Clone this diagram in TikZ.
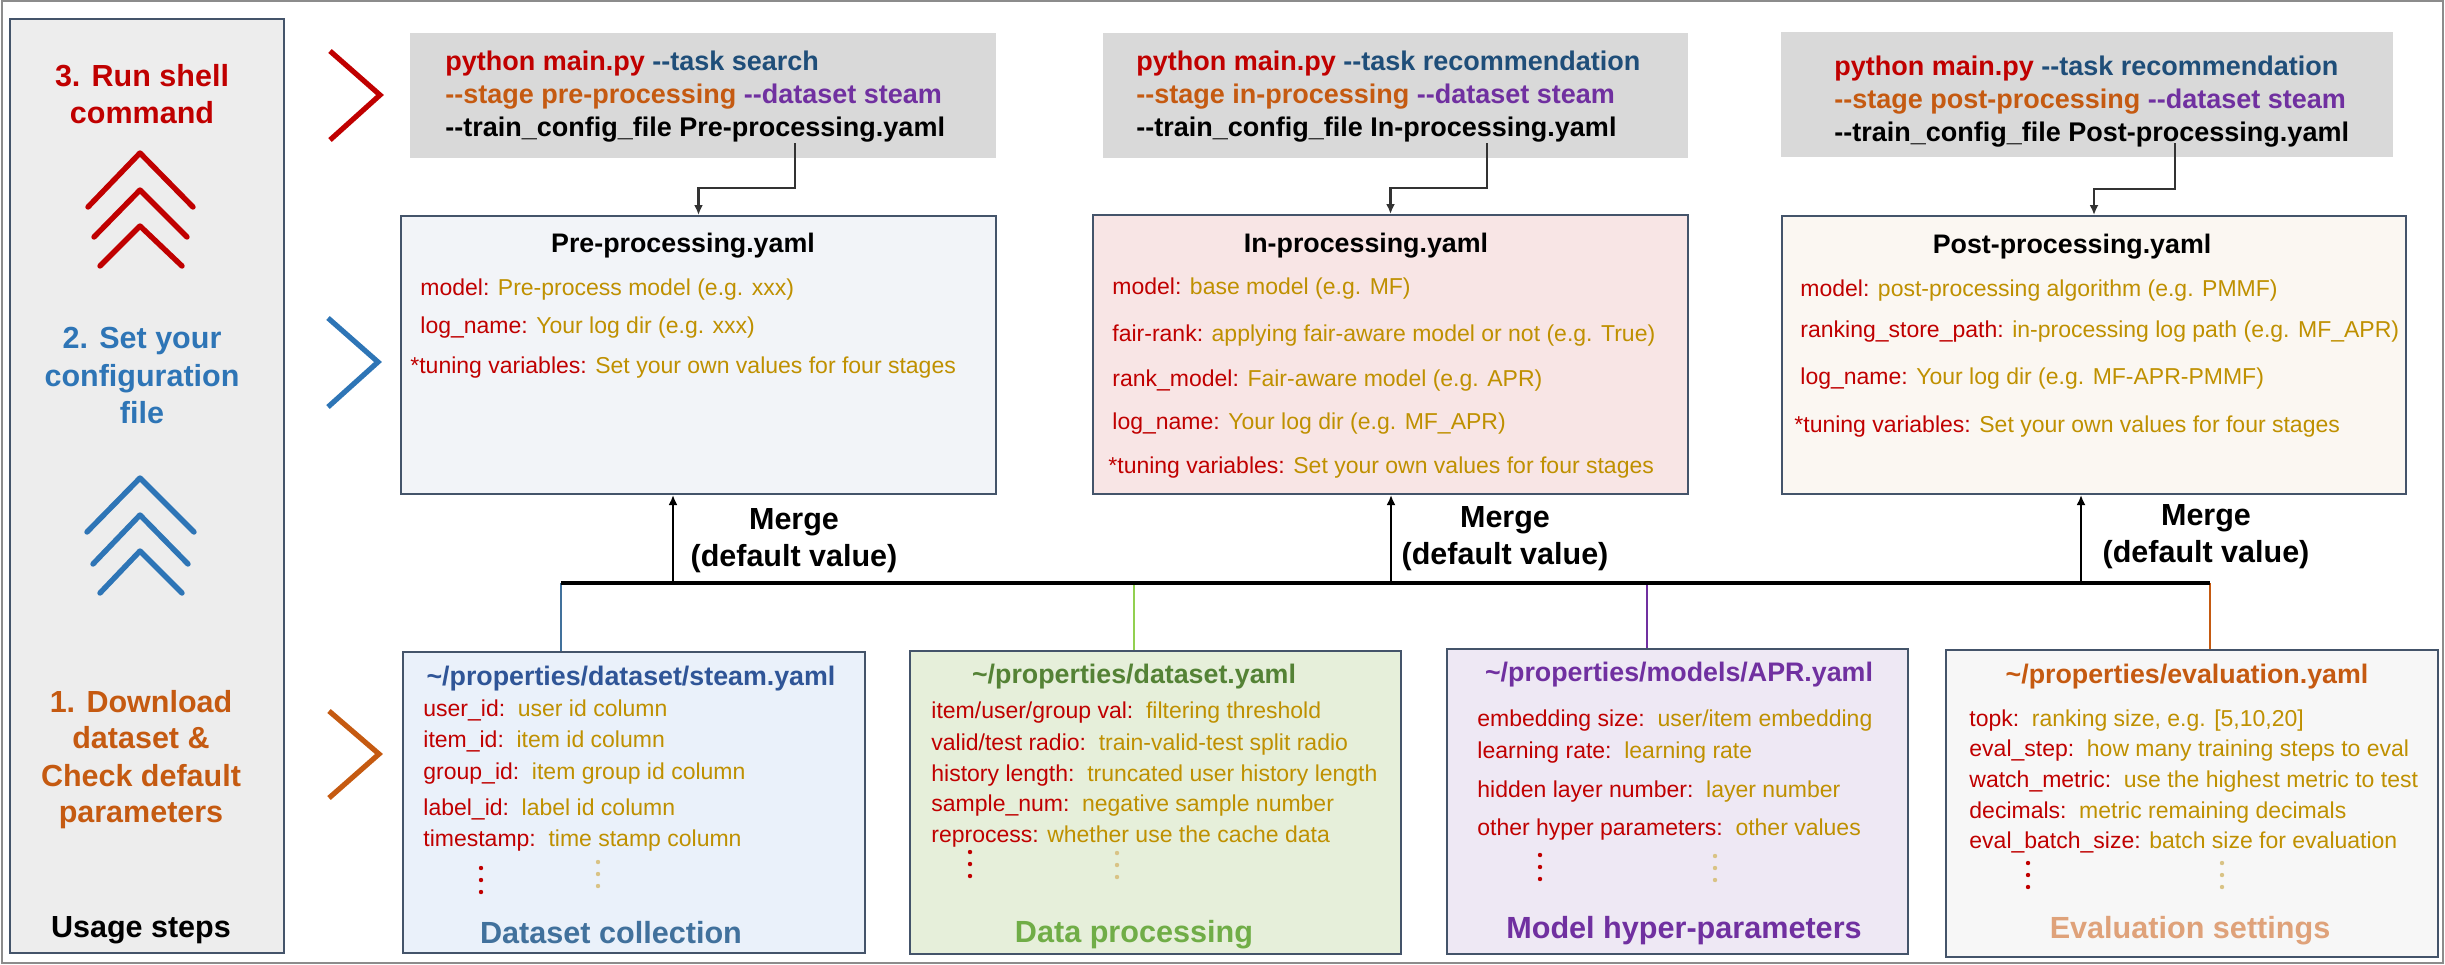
\documentclass[tikz,border=0pt]{standalone}
\usepackage{fontspec}
\setmainfont{Liberation Sans}[Ligatures=TeXOff]
\usepackage{xcolor}
\usetikzlibrary{arrows.meta}
\definecolor{stepred}{HTML}{C00000}
\definecolor{stepblue}{HTML}{2E75B6}
\definecolor{steporange}{HTML}{C55A11}
\definecolor{taskblue}{HTML}{1F4E79}
\definecolor{argpurple}{HTML}{7030A0}
\definecolor{keyred}{HTML}{C00000}
\definecolor{valgold}{HTML}{BF9000}
\definecolor{dotgold}{HTML}{D9C385}
\definecolor{edge}{HTML}{44546A}
\definecolor{framegrey}{HTML}{8C8C8C}
\definecolor{arrowgrey}{HTML}{333333}
\definecolor{panelgrey}{HTML}{EDEDED}
\definecolor{cmdgrey}{HTML}{D9D9D9}
\definecolor{prefill}{HTML}{F2F4F8}
\definecolor{infill}{HTML}{F8E5E5}
\definecolor{postfill}{HTML}{FBF7F2}
\definecolor{dsfill}{HTML}{EAF1FA}
\definecolor{dpfill}{HTML}{E6EFDA}
\definecolor{mhfill}{HTML}{EEE8F4}
\definecolor{evfill}{HTML}{F7F7F7}
\definecolor{dstitle}{HTML}{2F5597}
\definecolor{dscap}{HTML}{41719C}
\definecolor{dptitle}{HTML}{548235}
\definecolor{dpcap}{HTML}{70AD47}
\definecolor{mhcol}{HTML}{7030A0}
\definecolor{evtitle}{HTML}{C55A11}
\definecolor{evcap}{HTML}{DFA27A}
\definecolor{feedblue}{HTML}{41719C}
\definecolor{feedgreen}{HTML}{92D050}
\definecolor{feedorange}{HTML}{C55A11}
\newcommand{\kv}[2]{\textcolor{keyred}{#1} \textcolor{valgold}{#2}}
\newcommand{\kvw}[2]{\textcolor{keyred}{#1}\hspace{0.55em}\textcolor{valgold}{#2}}
\newcommand{\dotcolumn}[3]{\fill[#3] (#1,#2) circle[radius=1.1pt] (#1,#2+12) circle[radius=1.1pt] (#1,#2+24) circle[radius=1.1pt];}
\tikzset{
  panel/.style={draw=edge, line width=1pt, fill=panelgrey, inner sep=0pt, anchor=north west},
  cmdbox/.style={fill=cmdgrey, inner sep=0pt, anchor=north west},
  cfgbox/.style={draw=edge, line width=1pt, inner sep=0pt, anchor=north west},
  steptext/.style={anchor=base, inner sep=0pt, font=\bfseries\fontsize{15.25}{18}\selectfont},
  cmdtext/.style={anchor=base west, inner sep=0pt, font=\bfseries\fontsize{13.5}{16}\selectfont},
  cfgtitle/.style={anchor=base, inner sep=0pt, font=\bfseries\fontsize{13.4}{16}\selectfont},
  cfgline/.style={anchor=base west, inner sep=0pt, font=\fontsize{11.5}{13}\selectfont},
  captext/.style={anchor=base, inner sep=0pt, font=\bfseries\fontsize{15.3}{18}\selectfont},
  mergetext/.style={anchor=base, inner sep=0pt, font=\bfseries\fontsize{15.25}{18}\selectfont},
  chev/.style={line width=2.6pt, miter limit=10},
  upchev/.style={line width=2.7pt, line cap=round, line join=round},
  cmdarrow/.style={draw=arrowgrey, line width=1.4pt, -{Latex[length=5pt,width=4.5pt]}},
  mergearrow/.style={line width=1.2pt, -{Latex[length=5pt,width=4.5pt]}},
  bus/.style={line width=1.7pt},
  feed/.style={line width=1.1pt}
}
\begin{document}
\begin{tikzpicture}[x=0.5pt,y=-0.5pt]
\useasboundingbox (0,0) rectangle (2445,964);
\draw[framegrey, line width=1pt] (2,1) rectangle (2443,963);

\node[panel, minimum width=137pt, minimum height=467pt] (steps) at (9,18) {};
\node[steptext, text=stepred] (s3a) at (142,86) {3. Run shell};
\node[steptext, text=stepred] (s3b) at (142,123) {command};
\node[steptext, text=stepblue] (s2a) at (142,348) {2. Set your};
\node[steptext, text=stepblue] (s2b) at (142,386) {configuration};
\node[steptext, text=stepblue] (s2c) at (142,423) {file};
\node[steptext, text=steporange] (s1a) at (141,712) {1. Download};
\node[steptext, text=steporange] (s1b) at (141,748) {dataset \&};
\node[steptext, text=steporange] (s1c) at (141,786) {Check default};
\node[steptext, text=steporange] (s1d) at (141,822) {parameters};
\node[steptext] (usage) at (141,937) {Usage steps};

\draw[upchev, stepred] (88,207)--(140,153)--(193,207);
\draw[upchev, stepred] (94,237)--(140,190)--(187,237);
\draw[upchev, stepred] (100,266)--(140,226)--(182,266);
\draw[upchev, stepblue] (87,532)--(140,478)--(194,532);
\draw[upchev, stepblue] (93,564)--(140,515)--(188,564);
\draw[upchev, stepblue] (100,593)--(140,551)--(182,593);

\draw[chev, stepred] (330,51)--(380,95)--(330,140);
\draw[chev, stepblue] (328,318)--(378,362)--(328,407);
\draw[chev, steporange] (329,711)--(379,754)--(329,798);

\node[cmdbox, minimum width=293pt, minimum height=62.5pt] (cmd1) at (410,33) {};
\node[cmdbox, minimum width=292.5pt, minimum height=62.5pt] (cmd2) at (1103,33) {};
\node[cmdbox, minimum width=306pt, minimum height=62.5pt] (cmd3) at (1781,32) {};

\node[cmdtext] (c1a) at (445,70) {\textcolor{stepred}{python main.py} \textcolor{taskblue}{--task search}};
\node[cmdtext] (c1b) at (445,103) {\textcolor{steporange}{--stage pre-processing} \textcolor{argpurple}{--dataset steam}};
\node[cmdtext] (c1c) at (445,136) {--train\_config\_file Pre-processing.yaml};
\node[cmdtext] (c2a) at (1136,70) {\textcolor{stepred}{python main.py} \textcolor{taskblue}{--task recommendation}};
\node[cmdtext] (c2b) at (1136,103) {\textcolor{steporange}{--stage in-processing} \textcolor{argpurple}{--dataset steam}};
\node[cmdtext] (c2c) at (1136,136) {--train\_config\_file In-processing.yaml};
\node[cmdtext] (c3a) at (1834,75) {\textcolor{stepred}{python main.py} \textcolor{taskblue}{--task recommendation}};
\node[cmdtext] (c3b) at (1834,108) {\textcolor{steporange}{--stage post-processing} \textcolor{argpurple}{--dataset steam}};
\node[cmdtext] (c3c) at (1834,141) {--train\_config\_file Post-processing.yaml};

\node[cfgbox, fill=prefill, minimum width=297.5pt, minimum height=139pt] (pre) at (400,215) {};
\node[cfgbox, fill=infill, minimum width=297.5pt, minimum height=139.5pt] (inp) at (1092,214) {};
\node[cfgbox, fill=postfill, minimum width=312pt, minimum height=139pt] (post) at (1781,215) {};

\coordinate (a1) at (795,143);
\coordinate (a2) at (1487,143);
\coordinate (a3) at (2175,143);
\draw[cmdarrow] (a1) -- ++(0,45) -| (pre.north);
\draw[cmdarrow] (a2) -- ++(0,45) -| (inp.north);
\draw[cmdarrow] (a3) -- ++(0,46) -| (post.north);

\node[cfgtitle] (pret) at (683,252) {Pre-processing.yaml};
\node[cfgline] (pre1) at (420,295) {\kv{model:}{Pre-process model (e.g. xxx)}};
\node[cfgline] (pre2) at (420,333) {\kv{log\_name:}{Your log dir (e.g. xxx)}};
\node[cfgline] (pre3) at (410,373) {\kv{*tuning variables:}{Set your own values for four stages}};

\node[cfgtitle] (inpt) at (1366,252) {In-processing.yaml};
\node[cfgline] (inp1) at (1112,294) {\kv{model:}{base model (e.g. MF)}};
\node[cfgline] (inp2) at (1112,341) {\kv{fair-rank:}{applying fair-aware model or not (e.g. True)}};
\node[cfgline] (inp3) at (1112,386) {\kv{rank\_model:}{Fair-aware model (e.g. APR)}};
\node[cfgline] (inp4) at (1112,429) {\kv{log\_name:}{Your log dir (e.g. MF\_APR)}};
\node[cfgline] (inp5) at (1108,473) {\kv{*tuning variables:}{Set your own values for four stages}};

\node[cfgtitle] (postt) at (2072,253) {Post-processing.yaml};
\node[cfgline] (post1) at (1800,296) {\kv{model:}{post-processing algorithm (e.g. PMMF)}};
\node[cfgline] (post2) at (1800,337) {\kv{ranking\_store\_path:}{in-processing log path (e.g. MF\_APR)}};
\node[cfgline] (post3) at (1800,384) {\kv{log\_name:}{Your log dir (e.g. MF-APR-PMMF)}};
\node[cfgline] (post4) at (1794,432) {\kv{*tuning variables:}{Set your own values for four stages}};

\node[mergetext] (mg1a) at (794,529) {Merge};
\node[mergetext] (mg1b) at (794,566) {(default value)};
\node[mergetext] (mg2a) at (1505,527) {Merge};
\node[mergetext] (mg2b) at (1505,564) {(default value)};
\node[mergetext] (mg3a) at (2206,525) {Merge};
\node[mergetext] (mg3b) at (2206,562) {(default value)};

\node[cfgbox, fill=dsfill, minimum width=231pt, minimum height=150.5pt] (ds) at (402,651) {};
\node[cfgbox, fill=dpfill, minimum width=245.5pt, minimum height=151.5pt] (dp) at (909,650) {};
\node[cfgbox, fill=mhfill, minimum width=230.5pt, minimum height=152.5pt] (mh) at (1446,648) {};
\node[cfgbox, fill=evfill, minimum width=246pt, minimum height=153.5pt] (ev) at (1945,649) {};

\coordinate (busL) at (561,583);
\coordinate (busR) at (2210,583);
\coordinate (m1) at (673,583);
\coordinate (m2) at (1391,583);
\coordinate (m3) at (2081,583);
\coordinate (f2) at (1134,583);
\coordinate (f3) at (1647,583);
\draw[feed, feedblue] (busL) -- (busL |- ds.north);
\draw[feed, feedgreen] (f2) -- (f2 |- dp.north);
\draw[feed, mhcol] (f3) -- (f3 |- mh.north);
\draw[feed, feedorange] (busR) -- (busR |- ev.north);
\draw[bus] (busL) -- (busR);
\draw[mergearrow] (m1) -- (m1 |- pre.south);
\draw[mergearrow] (m2) -- (m2 |- inp.south);
\draw[mergearrow] (m3) -- (m3 |- post.south);

\node[cfgtitle, text=dstitle] (dst) at (631,685) {\textasciitilde/properties/dataset/steam.yaml};
\node[cfgline] (ds1) at (423,716) {\kvw{user\_id:}{user id column}};
\node[cfgline] (ds2) at (423,747) {\kvw{item\_id:}{item id column}};
\node[cfgline] (ds3) at (423,779) {\kvw{group\_id:}{item group id column}};
\node[cfgline] (ds4) at (423,815) {\kvw{label\_id:}{label id column}};
\node[cfgline] (ds5) at (423,846) {\kvw{timestamp:}{time stamp column}};
\node[captext, text=dscap] (dsc) at (611,943) {Dataset collection};

\node[cfgtitle, text=dptitle] (dpt) at (1134,683) {\textasciitilde/properties/dataset.yaml};
\node[cfgline] (dp1) at (931,718) {\kvw{item/user/group val:}{filtering threshold}};
\node[cfgline] (dp2) at (931,750) {\kvw{valid/test radio:}{train-valid-test split radio}};
\node[cfgline] (dp3) at (931,781) {\kvw{history length:}{truncated user history length}};
\node[cfgline] (dp4) at (931,811) {\kvw{sample\_num:}{negative sample number}};
\node[cfgline] (dp5) at (931,842) {\kv{reprocess:}{whether use the cache data}};
\node[captext, text=dpcap] (dpc) at (1134,942) {Data processing};

\node[cfgtitle, text=mhcol] (mht) at (1679,681) {\textasciitilde/properties/models/APR.yaml};
\node[cfgline] (mh1) at (1477,726) {\kvw{embedding size:}{user/item embedding}};
\node[cfgline] (mh2) at (1477,758) {\kvw{learning rate:}{learning rate}};
\node[cfgline] (mh3) at (1477,797) {\kvw{hidden layer number:}{layer number}};
\node[cfgline] (mh4) at (1477,835) {\kvw{other hyper parameters:}{other values}};
\node[captext, text=mhcol] (mhc) at (1684,938) {Model hyper-parameters};

\node[cfgtitle, text=evtitle] (evt) at (2187,683) {\textasciitilde/properties/evaluation.yaml};
\node[cfgline] (ev1) at (1969,726) {\kvw{topk:}{ranking size, e.g. [5,10,20]}};
\node[cfgline] (ev2) at (1969,756) {\kvw{eval\_step:}{how many training steps to eval}};
\node[cfgline] (ev3) at (1969,787) {\kvw{watch\_metric:}{use the highest metric to test}};
\node[cfgline] (ev4) at (1969,818) {\kvw{decimals:}{metric remaining decimals}};
\node[cfgline] (ev5) at (1969,848) {\kv{eval\_batch\_size:}{batch size for evaluation}};
\node[captext, text=evcap] (evc) at (2190,938) {Evaluation settings};

\dotcolumn{481}{868}{keyred}
\dotcolumn{598}{862}{dotgold}
\dotcolumn{970}{852}{keyred}
\dotcolumn{1117}{853}{dotgold}
\dotcolumn{1540}{855}{keyred}
\dotcolumn{1715}{856}{dotgold}
\dotcolumn{2028}{863}{keyred}
\dotcolumn{2222}{863}{dotgold}
\end{tikzpicture}
\end{document}
